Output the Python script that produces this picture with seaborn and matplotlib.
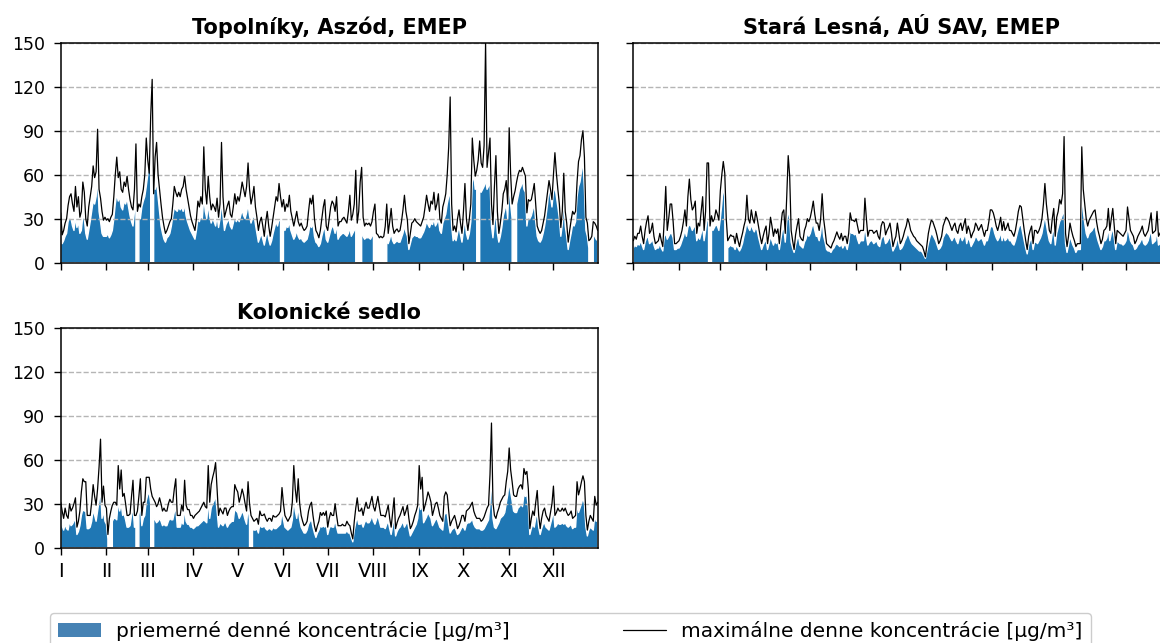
import numpy as np
import pandas as pd
import matplotlib
matplotlib.use('Agg')
import matplotlib.pyplot as plt
from matplotlib.patches import Patch
from matplotlib.lines import Line2D
import seaborn as sns

nan = np.nan

# Labels
month_labels = ['I', 'II', 'III', 'IV', 'V', 'VI', 'VII', 'VIII', 'IX', 'X', 'XI', 'XII']
month_starts = [0, 31, 59, 90, 120, 151, 181, 212, 243, 273, 304, 334]
stations = ['Topolníky, Aszód, EMEP', 'Stará Lesná, AÚ SAV, EMEP', 'Kolonické sedlo']
label_mean = 'priemerné denné koncentrácie [µg/m³]'
label_max = 'maximálne denne koncentrácie [µg/m³]'

# Topolníky - daily max / daily mean (one value per day, month by month)
topolniky_max = [
    34, 19, 22, 27, 30, 39, 45, 47, 40, 35, 52, 38, 45, 31, 35, 55, 48, 30, 25, 38, 45, 52, 66, 58, 62, 91, 50, 44, 35, 29, 31,
    29, 30, 28, 31, 33, 45, 60, 72, 58, 62, 50, 48, 55, 52, 59, 50, 43, 38, 36, 50, 81, 35, 40, 38, 45, 50, 60, 85,
    70, 61, 100, 125, 47, 72, 82, 60, 50, 40, 31, 25, 20, 22, 25, 28, 30, 40, 52, 48, 45, 48, 45, 50, 52, 59, 50, 44, 38, 32, 28,
    25, 22, 30, 42, 38, 45, 40, 79, 50, 40, 59, 45, 36, 40, 38, 35, 44, 31, 40, 82, 45, 31, 35, 39, 42, 33, 31, 38, 47, 40,
    45, 42, 48, 55, 50, 45, 52, 68, 50, 40, 45, 52, 38, 31, 22, 28, 31, 25, 18, 28, 35, 25, 18, 24, 31, 38, 45, 42, 54, 45, 38,
    43, 35, 40, 38, 46, 35, 30, 25, 30, 35, 28, 25, 27, 24, 22, 23, 25, 35, 44, 40, 46, 30, 22, 20, 17, 22, 30, 38, 43, 25,
    22, 30, 38, 42, 40, 35, 45, 25, 28, 28, 30, 31, 29, 27, 35, 46, 29, 33, 40, 63, 27, 35, 55, 65, 31, 25, 27, 26, 27, 25, 28,
    35, 40, 20, 19, 17, 18, 17, 18, 25, 40, 20, 28, 37, 25, 20, 22, 23, 21, 22, 28, 36, 46, 35, 29, 13, 20, 27, 28, 30, 28, 27,
    26, 25, 28, 31, 38, 46, 40, 35, 42, 40, 48, 36, 40, 47, 30, 27, 38, 42, 47, 60, 79, 113, 40, 22, 25, 21, 30, 36, 27, 20,
    35, 54, 30, 22, 30, 40, 85, 70, 59, 63, 70, 83, 68, 65, 80, 150, 65, 75, 85, 40, 26, 52, 73, 35, 20, 27, 35, 47, 50, 56, 40,
    92, 60, 40, 45, 49, 55, 60, 63, 62, 65, 62, 59, 34, 43, 42, 43, 48, 54, 39, 25, 22, 20, 22, 27, 32, 40, 48, 56, 50, 43,
    60, 75, 61, 50, 40, 24, 35, 61, 35, 27, 14, 22, 29, 35, 33, 35, 55, 69, 73, 84, 90, 72, 31, 27, 15, 16, 18, 28, 27, 25, 22,
]
topolniky_mean = [
    22, 13, 15, 18, 20, 28, 31, 30, 25, 22, 31, 24, 28, 20, 22, 32, 30, 20, 16, 22, 28, 35, 42, 40, 45, 59, 35, 28, 20, 18, 18,
    18, 20, 17, 19, 22, 30, 40, 47, 42, 45, 38, 36, 42, 40, 44, 38, 32, 28, 25, 35, 45, nan, 35, 30, 38, 42, 45, 52,
    60, 70, 81, nan, 55, 50, 55, 45, 35, 25, 20, 16, 14, 17, 18, 20, 25, 32, 38, 36, 35, 38, 36, 38, 35, 40, 32, 28, 25, 22, 20,
    18, 16, 22, 30, 28, 32, 30, 45, 35, 30, 40, 32, 27, 30, 28, 25, 32, 24, 30, 42, 32, 22, 26, 28, 30, 25, 23, 27, 32, 28,
    30, 28, 32, 36, 32, 30, 34, 40, 32, 27, 30, 33, 26, 20, 14, 17, 20, 16, 12, 17, 22, 16, 12, 15, 20, 24, 28, 25, 30, 28, nan,
    25, 22, 25, 24, 28, 22, 19, 16, 18, 22, 18, 16, 17, 15, 14, 15, 16, 20, 26, 24, 27, 18, 14, 13, 11, 13, 18, 22, 25, 16,
    14, 18, 22, 25, 24, 20, 26, 16, 18, 19, 20, 20, 19, 18, 20, 24, 18, 20, 22, 30, nan, nan, nan, 28, 18, 16, 17, 17, 17, 16, 18,
    20, nan, nan, nan, nan, nan, nan, nan, nan, 22, 13, 16, 20, 15, 13, 14, 15, 14, 14, 17, 20, 25, 21, 18, 9, 13, 17, 18, 19, 18, 18,
    17, 17, 19, 21, 24, 28, 26, 24, 27, 26, 30, 25, 27, 30, 22, 20, 27, 30, 33, 40, 45, 48, 25, 15, 17, 15, 20, 25, 19, 14,
    22, 30, 20, 16, 20, 28, 55, 60, 50, 52, nan, 52, 48, 50, 52, 56, 50, 52, 56, 25, 17, 28, 35, 20, 14, 18, 24, 32, 36, 40, 30,
    55, 40, 30, nan, nan, 40, 45, 50, 52, 56, 50, 48, 25, 32, 30, 32, 36, 40, 28, 18, 15, 14, 16, 20, 25, 32, 40, 52, 45, 38,
    48, 52, 45, 38, 30, 18, 26, 45, 25, 18, 9, 15, 20, 26, 25, 28, 45, 52, 55, 62, 70, 50, 22, 18, 10, nan, nan, 20, 18, 16, 15,
]

# Stará Lesná
lesna_max = [
    15, 18, 16, 20, 20, 25, 18, 13, 22, 28, 32, 20, 22, 27, 18, 13, 14, 15, 20, 15, 11, 30, 52, 22, 30, 40, 40, 28, 13, 13, 14,
    15, 18, 22, 28, 36, 25, 45, 57, 43, 36, 38, 42, 20, 27, 25, 35, 45, 22, 35, 68, 68, 25, 32, 28, 30, 36, 33, 29,
    49, 60, 69, 61, 30, 15, 17, 19, 18, 18, 13, 20, 15, 11, 16, 20, 25, 29, 46, 30, 27, 36, 30, 27, 35, 30, 24, 18, 13, 18, 22,
    25, 13, 20, 31, 25, 18, 23, 20, 23, 13, 25, 34, 36, 20, 45, 73, 59, 22, 15, 9, 19, 25, 30, 18, 16, 15, 22, 25, 30, 28,
    31, 36, 42, 33, 27, 27, 22, 30, 47, 30, 22, 13, 12, 11, 10, 13, 15, 18, 21, 18, 16, 20, 15, 18, 18, 13, 20, 34, 29, 29, 28,
    30, 25, 20, 22, 22, 22, 44, 30, 18, 22, 22, 22, 20, 21, 22, 18, 16, 25, 28, 27, 19, 22, 24, 27, 20, 11, 15, 18, 27, 20,
    13, 15, 18, 22, 25, 30, 27, 22, 20, 18, 17, 15, 14, 13, 12, 11, 8, 4, 12, 20, 25, 29, 28, 25, 22, 18, 13, 15, 18, 25, 28,
    31, 30, 28, 25, 22, 25, 27, 22, 20, 25, 27, 22, 26, 30, 20, 25, 22, 17, 20, 22, 27, 25, 22, 24, 26, 22, 18, 22, 22, 28, 36,
    36, 34, 30, 25, 22, 26, 31, 22, 28, 22, 24, 27, 22, 22, 20, 18, 22, 28, 35, 39, 38, 30, 22, 15, 9, 18, 22, 25, 13, 22,
    22, 20, 22, 25, 30, 40, 54, 40, 31, 22, 20, 30, 37, 18, 31, 35, 43, 40, 47, 86, 20, 11, 18, 27, 22, 18, 15, 11, 13, 13, 13,
    79, 50, 40, 30, 25, 29, 31, 33, 35, 36, 28, 22, 18, 13, 16, 22, 23, 25, 37, 22, 30, 37, 25, 13, 22, 21, 20, 19, 18, 20,
    22, 38, 30, 22, 20, 18, 13, 15, 18, 20, 22, 25, 20, 18, 20, 22, 28, 34, 20, 21, 22, 35, 18, 20, 22, 25, 22, 20, 18, 22, 25,
]
lesna_mean = [
    10, 12, 11, 13, 12, 15, 12, 9, 14, 17, 18, 13, 14, 16, 12, 9, 10, 10, 13, 10, 8, 18, 20, 16, 18, 20, 20, 17, 9, 9, 10,
    10, 12, 15, 18, 22, 18, 24, 26, 25, 22, 24, 26, 15, 18, 16, 20, 25, 15, 22, 30, 28, nan, 24, 22, 24, 26, 25, 22,
    30, 40, 52, 45, nan, 10, 11, 12, 11, 11, 9, 12, 10, 8, 10, 13, 18, 22, 28, 24, 22, 26, 23, 21, 24, 22, 17, 13, 9, 12, 14,
    16, 9, 13, 18, 15, 12, 15, 13, 15, 9, 16, 22, 24, 14, 28, 36, 30, 14, 10, 7, 12, 16, 18, 12, 11, 10, 14, 16, 20, 18,
    20, 24, 27, 22, 18, 18, 15, 20, 30, 18, 14, 9, 8, 8, 7, 9, 10, 12, 13, 12, 11, 13, 10, 12, 12, 9, 14, 22, 20, 20, 19,
    20, 16, 13, 15, 15, 15, 25, 18, 12, 14, 15, 15, 13, 14, 15, 12, 11, 16, 18, 18, 13, 14, 16, 18, 13, 8, 10, 12, 18, 13,
    9, 10, 12, 15, 17, 20, 18, 15, 13, 12, 11, 10, 9, 8, 8, 7, 5, 3, 8, 13, 17, 20, 19, 17, 15, 12, 9, 10, 12, 17, 19,
    21, 20, 19, 17, 15, 17, 18, 15, 13, 17, 18, 15, 17, 20, 13, 17, 15, 11, 13, 15, 18, 17, 15, 16, 17, 15, 12, 15, 15, 19, 24,
    25, 24, 20, 17, 15, 17, 21, 15, 19, 15, 16, 18, 15, 15, 13, 12, 15, 19, 23, 26, 25, 20, 15, 10, 6, 12, 15, 17, 9, 14,
    14, 13, 15, 17, 20, 26, 32, 26, 20, 15, 13, 20, 24, 12, 20, 24, 28, 30, 33, 35, 13, 7, 12, 18, 15, 12, 10, 7, 9, 9, 9,
    47, 35, 27, 20, 17, 20, 21, 22, 24, 25, 19, 15, 12, 9, 11, 15, 15, 17, 24, 15, 20, 24, 17, 9, 15, 14, 13, 13, 12, 13,
    15, 24, 20, 15, 13, 12, 9, 10, 12, 13, 15, 17, 13, 12, 13, 15, 19, 22, 13, 14, 15, 22, 12, 13, 15, 17, 15, 13, 12, 15, 17,
]

# Kolonické sedlo
kolonicke_max = [
    31, 25, 20, 27, 22, 20, 30, 25, 27, 30, 34, 14, 18, 25, 38, 47, 45, 45, 22, 22, 22, 31, 43, 35, 29, 40, 55, 74, 31, 42, 29,
    27, 9, 20, 25, 29, 31, 31, 29, 56, 40, 53, 35, 37, 30, 22, 22, 23, 35, 46, 22, 22, 25, 35, 47, 22, 31, 31, 48,
    48, 48, 40, 35, 33, 31, 28, 30, 34, 30, 25, 27, 25, 25, 30, 33, 31, 31, 40, 47, 22, 22, 22, 29, 25, 46, 29, 26, 26, 22, 22,
    20, 22, 23, 24, 25, 27, 29, 31, 28, 27, 56, 31, 43, 48, 52, 58, 40, 22, 27, 25, 23, 27, 27, 22, 25, 27, 28, 28, 43, 40,
    38, 31, 35, 40, 36, 30, 25, 45, 30, 22, 20, 18, 19, 20, 16, 25, 22, 22, 23, 20, 18, 20, 20, 18, 22, 21, 21, 22, 23, 25, 41,
    30, 22, 20, 18, 20, 22, 31, 56, 40, 31, 47, 30, 22, 18, 15, 16, 18, 25, 29, 31, 22, 15, 11, 15, 18, 24, 22, 24, 22, 25,
    14, 20, 24, 22, 22, 30, 22, 15, 15, 15, 16, 15, 15, 18, 16, 15, 10, 6, 18, 27, 34, 25, 25, 27, 22, 27, 31, 27, 27, 31, 35,
    28, 25, 30, 35, 28, 22, 22, 22, 21, 25, 29, 20, 14, 24, 34, 13, 17, 20, 22, 25, 28, 22, 25, 29, 20, 13, 15, 18, 22, 25, 29,
    56, 40, 48, 25, 29, 33, 38, 35, 31, 22, 26, 30, 31, 27, 22, 20, 18, 35, 38, 36, 25, 15, 18, 20, 22, 18, 13, 15, 18, 22,
    22, 18, 25, 26, 27, 29, 31, 25, 22, 20, 20, 20, 18, 19, 21, 24, 27, 29, 50, 85, 31, 22, 20, 24, 27, 31, 33, 35, 36, 45, 52,
    68, 53, 45, 36, 35, 35, 40, 42, 43, 40, 54, 50, 52, 40, 13, 20, 25, 22, 31, 39, 22, 13, 20, 25, 27, 22, 20, 18, 24, 30,
    42, 22, 24, 27, 25, 25, 27, 25, 27, 24, 22, 23, 25, 20, 21, 22, 45, 36, 40, 45, 49, 45, 22, 12, 18, 22, 20, 18, 35, 29, 31,
]
kolonicke_mean = [
    18, 15, 12, 16, 13, 12, 18, 15, 16, 18, 20, 9, 11, 15, 22, 26, 25, 25, 13, 13, 14, 18, 26, 22, 18, 25, 32, 40, 20, 25, 18,
    16, 6, nan, nan, 18, 20, 20, 19, 32, 25, 30, 22, 23, 19, 14, 14, 15, 22, 28, 14, 14, nan, 22, 30, 15, 20, 22, 32,
    36, 38, 30, nan, 20, 19, 17, 18, 20, 18, 15, 16, 15, 15, 18, 20, 19, 19, 24, 28, 14, 14, 14, 18, 16, 27, 18, 16, 16, 14, 14,
    13, 14, 15, 15, 16, 17, 18, 19, 18, 17, 33, 20, 27, 30, 32, 36, 25, 14, 17, 16, 15, 17, 17, 14, 16, 17, 18, 18, 27, 25,
    24, 20, 22, 25, 23, 19, 16, 28, 19, nan, 13, 12, 12, 13, 10, 16, 14, 14, 15, 13, 12, 13, 13, 12, 14, 13, 13, 14, 15, 16, 25,
    19, 14, 13, 12, 13, 14, 19, 33, 25, 20, 28, 19, 14, 12, 10, 10, 12, 16, 18, 19, 14, 10, 7, 10, 12, 15, 14, 15, 14, 16,
    9, 13, 15, 14, 14, 19, 14, 10, 10, 10, 10, 10, 10, 12, 10, 10, 7, 4, 12, 17, 21, 16, 16, 17, 14, 17, 19, 17, 17, 19, 22,
    18, 16, 19, 22, 18, 14, 14, 14, 13, 16, 18, 13, 9, 15, 21, 8, 11, 13, 14, 16, 18, 14, 16, 18, 13, 8, 10, 12, 14, 16, 20,
    32, 26, 30, 17, 19, 21, 24, 22, 20, 15, 17, 19, 20, 17, 14, 13, 12, 22, 24, 23, 16, 10, 12, 13, 14, 12, 9, 10, 12, 14,
    14, 12, 16, 17, 17, 18, 20, 16, 14, 13, 13, 13, 12, 12, 13, 15, 17, 19, 30, 50, 20, 14, 13, 15, 17, 20, 21, 22, 24, 30, 36,
    45, 38, 32, 25, 24, 24, 27, 28, 30, 28, 36, 35, 36, 28, 9, 13, 16, 14, 20, 24, 14, 9, 13, 16, 17, 14, 13, 12, 16, 20,
    26, 14, 15, 17, 16, 16, 17, 16, 17, 15, 14, 15, 16, 13, 14, 14, 30, 24, 27, 30, 34, 30, 14, 8, 12, 14, 13, 12, 22, 18, 20,
]

series = [(topolniky_mean, topolniky_max), (lesna_mean, lesna_max), (kolonicke_mean, kolonicke_max)]

sns.set_style('ticks')
plt.rcParams['font.family'] = ['DejaVu Sans']
plt.rcParams['text.color'] = 'black'
plt.rcParams['xtick.color'] = 'black'
plt.rcParams['ytick.color'] = 'black'

W, H = 1160, 643
fig = plt.figure(figsize=(W / 100, H / 100), dpi=100)

# axes corners in pixels (left, top); the right panel runs past the image edge
corners = [(60.7, 42.7), (633.3, 42.7), (60.7, 327.7)]
ax_w, ax_h = 537, 220

for i, (name, (mean, mx)) in enumerate(zip(stations, series)):
    left, top = corners[i]
    ax = fig.add_axes([left / W, 1 - (top + ax_h) / H, ax_w / W, ax_h / H])
    df = pd.DataFrame({'day': np.arange(len(mx)), 'mean': mean, 'max': mx})

    ax.fill_between(df['day'], df['mean'], facecolor='#1f77b4', edgecolor='white', linewidth=1.0, zorder=1)
    sns.lineplot(data=df, x='day', y='max', ax=ax, color='black', linewidth=0.9, zorder=3)

    ax.set_xlim(0, 364)
    ax.set_ylim(0, 150)
    ax.set_yticks([0, 30, 60, 90, 120, 150])
    ax.set_xticks(month_starts)
    ax.set_axisbelow(False)
    ax.yaxis.grid(True, linestyle='--', color='#b5b5b5', linewidth=1.0)
    ax.set_xlabel('')
    ax.set_ylabel('')
    ax.set_title(name, fontweight='bold', fontsize=15, pad=6, color='black')
    ax.tick_params(axis='both', direction='out', length=5.2, width=1, colors='black')
    ax.tick_params(axis='y', pad=6, labelsize=12.5)
    ax.tick_params(axis='x', pad=5, labelsize=14)
    for sp in ax.spines.values():
        sp.set_visible(True)
        sp.set_color('black')
        sp.set_linewidth(1.1)
        sp.set_zorder(4)

    if i == 2:
        ax.set_xticklabels(month_labels)
    else:
        ax.set_xticklabels([])
    if i == 1:
        ax.set_yticklabels([])

handles = [Patch(facecolor='steelblue', edgecolor='none'),
           Line2D([], [], color='black', linewidth=0.9)]
fig.legend(handles, [label_mean, label_max], loc='upper left',
           bbox_to_anchor=(50 / W, 1 - 613 / H), borderaxespad=0, ncol=2, fontsize=14.5,
           handlelength=2.15, handletextpad=0.75, columnspacing=5.6,
           frameon=True, edgecolor='#cccccc', framealpha=1)

plt.savefig('out.png', dpi=100)
